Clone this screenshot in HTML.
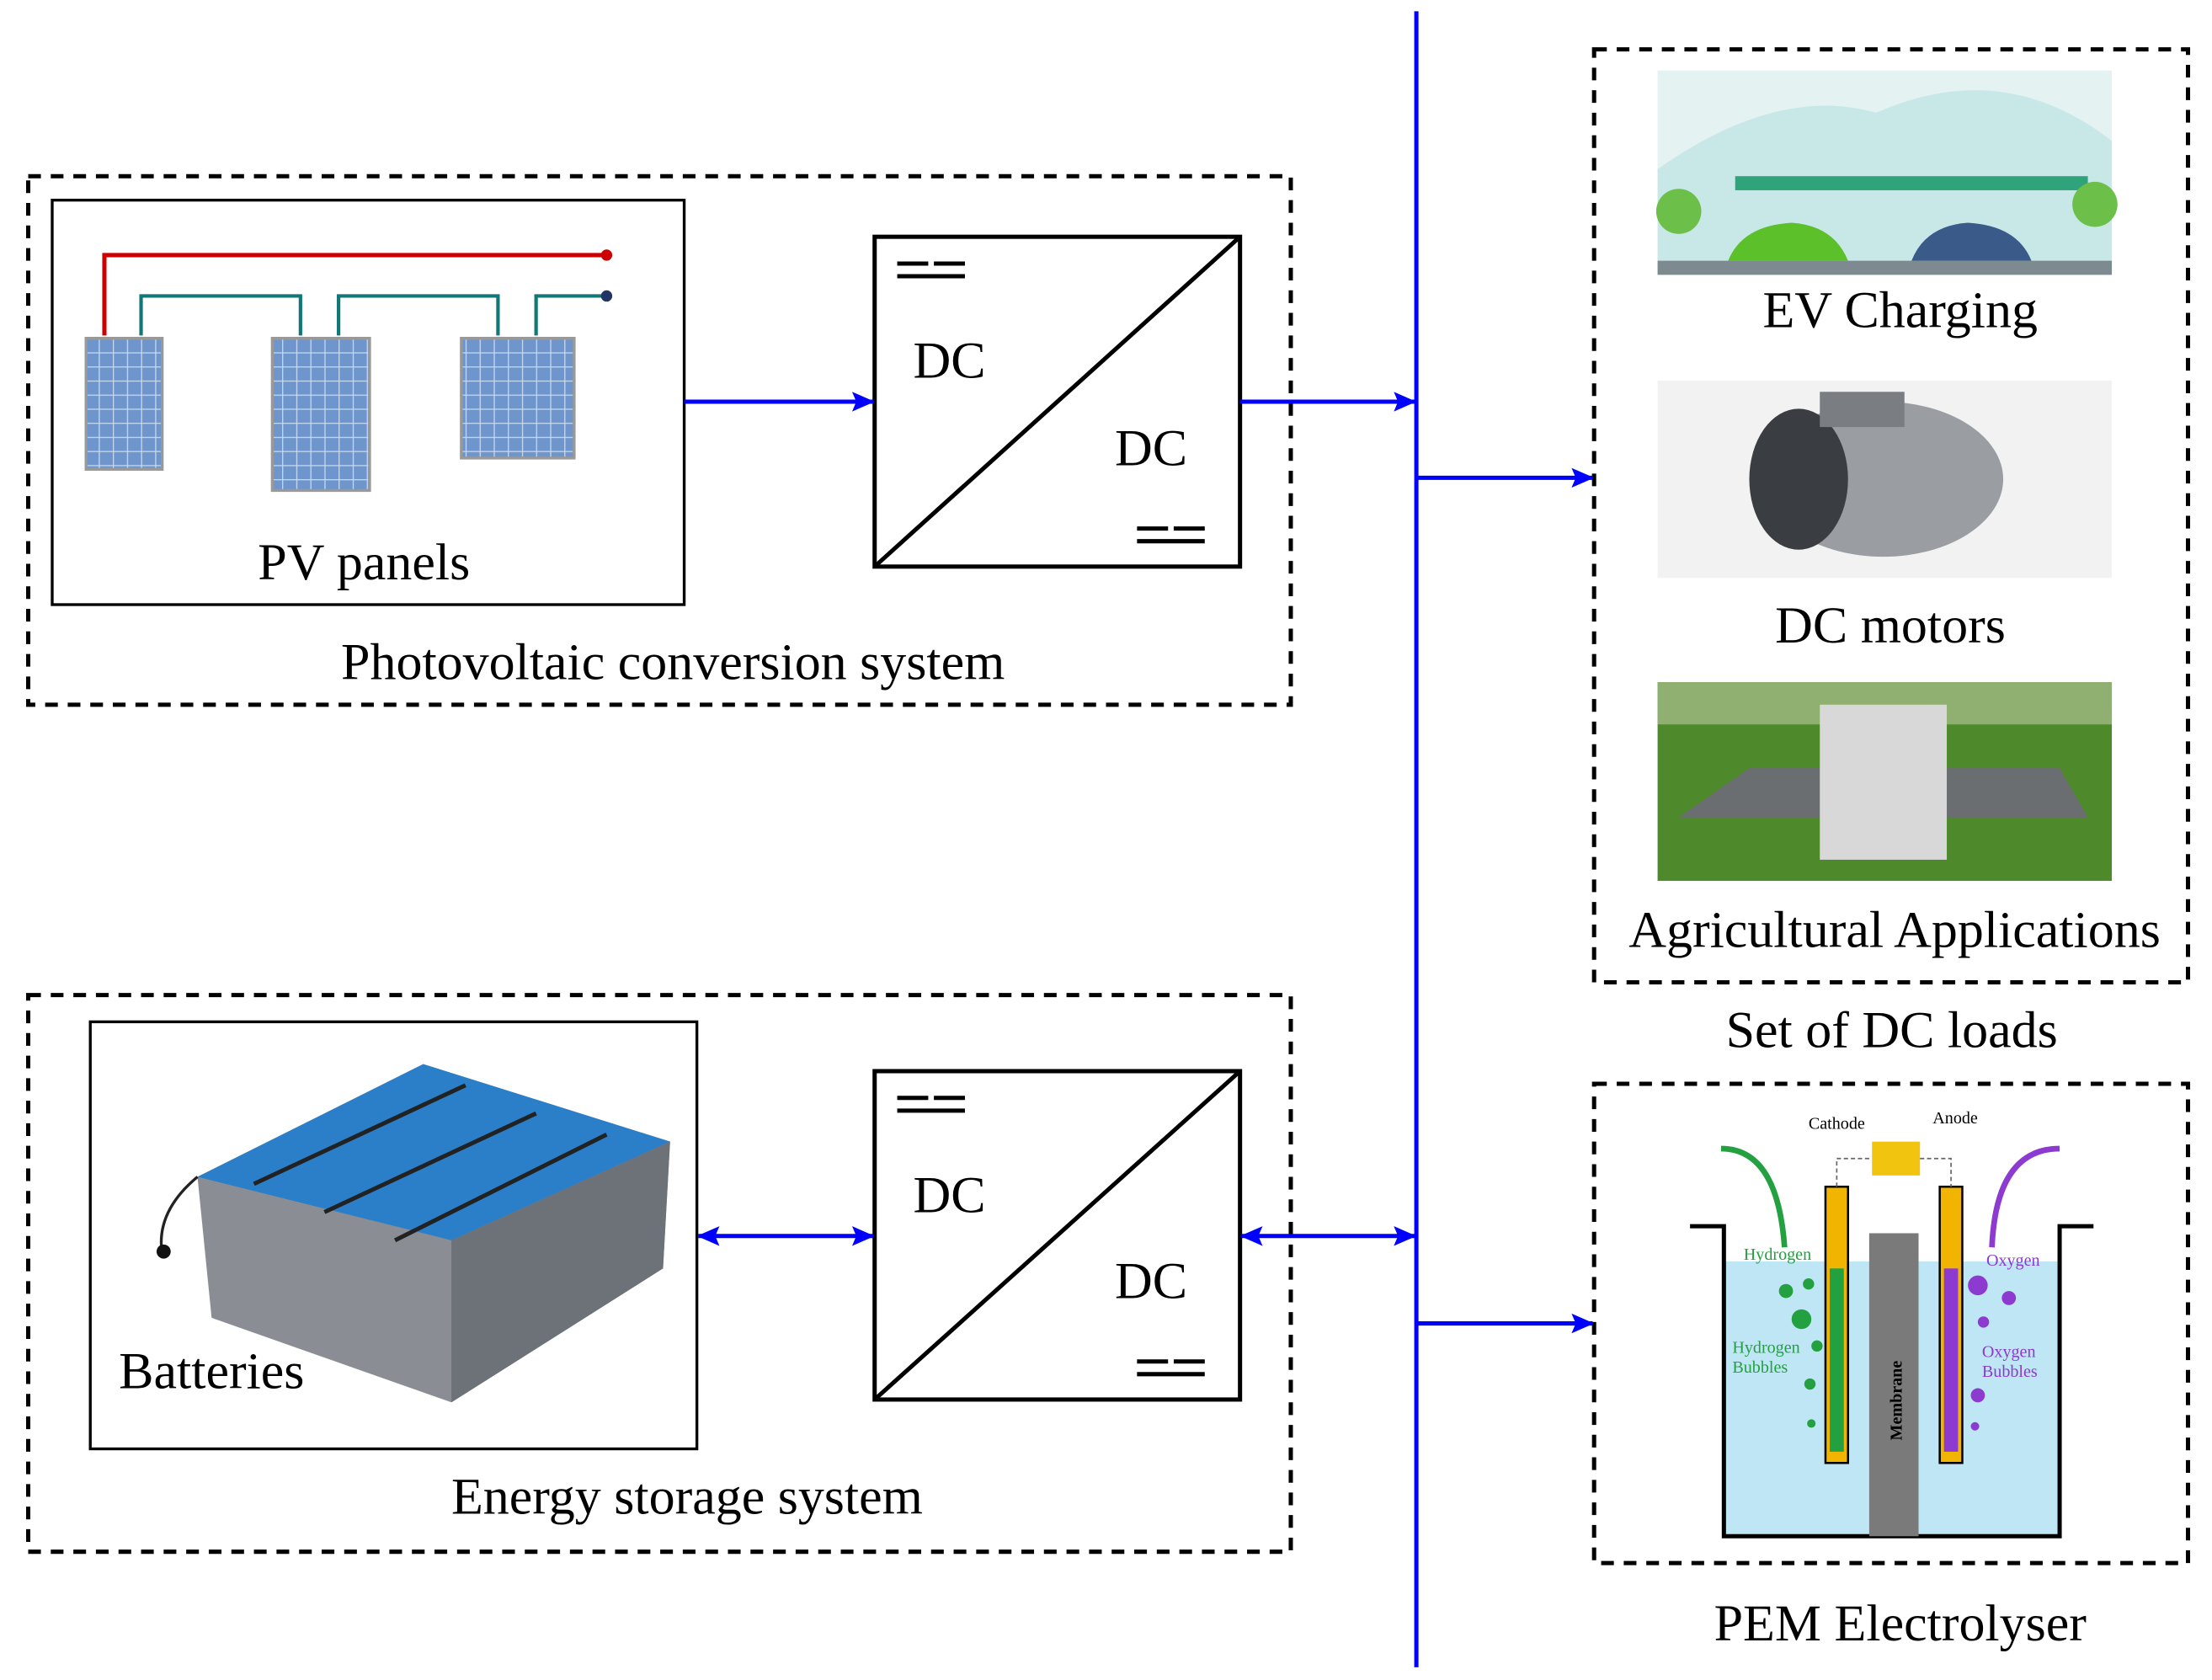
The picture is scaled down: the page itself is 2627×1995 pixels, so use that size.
<!DOCTYPE html>
<html><head><meta charset="utf-8"><style>
html,body{margin:0;padding:0;background:#fff;}
svg{display:block;}
text{font-family:"Liberation Serif",serif;}
</style></head><body>
<svg width="2627" height="1995" viewBox="0 0 1568 1192" preserveAspectRatio="none" xmlns="http://www.w3.org/2000/svg">
<defs>
<marker id="a" markerWidth="16" markerHeight="14" refX="15" refY="7" orient="auto" markerUnits="userSpaceOnUse"><path d="M0,0 L16,7 L0,14 L3,7 Z" fill="#00f"/></marker>
<marker id="s" markerWidth="16" markerHeight="14" refX="1" refY="7" orient="auto" markerUnits="userSpaceOnUse"><path d="M16,0 L0,7 L16,14 L13,7 Z" fill="#00f"/></marker>
<pattern id="g" width="10" height="10" patternUnits="userSpaceOnUse"><rect width="10" height="10" fill="#6f96cc"/><path d="M0,0H10M0,0V10" stroke="#c8daf0" stroke-width="1.5"/></pattern>
</defs>
<line x1="1004" y1="8" x2="1004" y2="1183" stroke="#00f" stroke-width="3"/>
<g fill="none" stroke="#000" stroke-width="3" stroke-dasharray="9,7">
<rect x="20" y="125" width="895" height="375"/>
<rect x="20" y="706" width="895" height="395"/>
<rect x="1130" y="35" width="421" height="662"/>
<rect x="1130" y="769" width="421" height="340"/>
</g>
<rect x="37" y="142" width="448" height="287" fill="#fff" stroke="#000" stroke-width="2"/>
<path d="M74,238 V181 H430" stroke="#c00" stroke-width="3" fill="none"/>
<circle cx="430" cy="181" r="4" fill="#c00"/>
<path d="M100,238 V210 H213 V238 M240,238 V210 H353 V238 M380,238 V210 H430" stroke="#177" stroke-width="2.5" fill="none"/>
<circle cx="430" cy="210" r="4" fill="#236"/>
<rect x="61" y="240" width="54" height="93" fill="url(#g)" stroke="#999" stroke-width="2"/>
<rect x="193" y="240" width="69" height="108" fill="url(#g)" stroke="#999" stroke-width="2"/>
<rect x="327" y="240" width="80" height="85" fill="url(#g)" stroke="#999" stroke-width="2"/>
<text x="258" y="411" font-size="37" text-anchor="middle">PV panels</text>
<text x="477" y="482" font-size="37" text-anchor="middle">Photovoltaic conversion system</text>
<rect x="620" y="168" width="259" height="234" fill="#fff" stroke="#000" stroke-width="3"/>
<line x1="620" y1="402" x2="879" y2="168" stroke="#000" stroke-width="3"/>
<path d="M636,187H658M662,187H684M636,196H684M806,375H828M832,375H854M806,384H854" stroke="#000" stroke-width="3"/>
<text x="673" y="268" font-size="37" text-anchor="middle">DC</text>
<text x="816" y="330" font-size="37" text-anchor="middle">DC</text>
<rect x="620" y="760" width="259" height="233" fill="#fff" stroke="#000" stroke-width="3"/>
<line x1="620" y1="993" x2="879" y2="760" stroke="#000" stroke-width="3"/>
<path d="M636,779H658M662,779H684M636,788H684M806,966H828M832,966H854M806,975H854" stroke="#000" stroke-width="3"/>
<text x="673" y="860" font-size="37" text-anchor="middle">DC</text>
<text x="816" y="921" font-size="37" text-anchor="middle">DC</text>
<rect x="64" y="725" width="430" height="303" fill="#fff" stroke="#000" stroke-width="2"/>
<path d="M140,835 L300,755 L475,810 L470,900 L320,995 L150,935 Z" fill="#8a8e94"/>
<path d="M140,835 L300,755 L475,810 L320,880 Z" fill="#2b7fc8"/>
<path d="M320,880 L475,810 L470,900 L320,995 Z" fill="#6d7278"/>
<path d="M180,840L330,770M230,860L380,790M280,880L430,805" stroke="#222" stroke-width="3"/>
<path d="M140,835 Q110,860 115,890" stroke="#222" stroke-width="2" fill="none"/>
<circle cx="116" cy="888" r="5" fill="#111"/>
<text x="150" y="985" font-size="37" text-anchor="middle">Batteries</text>
<text x="487" y="1074" font-size="37" text-anchor="middle">Energy storage system</text>
<g stroke="#00f" stroke-width="3" fill="none">
<line x1="485" y1="285" x2="619" y2="285" marker-end="url(#a)"/>
<line x1="879" y1="285" x2="1003" y2="285" marker-end="url(#a)"/>
<line x1="1004" y1="339" x2="1129" y2="339" marker-end="url(#a)"/>
<line x1="495" y1="877" x2="619" y2="877" marker-end="url(#a)" marker-start="url(#s)"/>
<line x1="880" y1="877" x2="1003" y2="877" marker-end="url(#a)" marker-start="url(#s)"/>
<line x1="1004" y1="939" x2="1129" y2="939" marker-end="url(#a)"/>
</g>
<rect x="1175" y="50" width="322" height="145" fill="#e4f3f2"/>
<path d="M1175,195 V120 Q1260,60 1330,80 Q1420,40 1497,100 V195Z" fill="#c8e8e8"/>
<rect x="1230" y="125" width="250" height="10" fill="#2fa37a"/>
<rect x="1175" y="185" width="322" height="10" fill="#7d8a90"/>
<path d="M1225,185 Q1235,160 1270,158 Q1300,160 1310,185Z" fill="#5cc02a"/>
<path d="M1355,185 Q1365,160 1395,158 Q1430,160 1440,185Z" fill="#3a5a8a"/>
<circle cx="1190" cy="150" r="16" fill="#6cc04a"/><circle cx="1485" cy="145" r="16" fill="#6cc04a"/>
<text x="1347" y="232" font-size="37" text-anchor="middle">EV Charging</text>
<rect x="1175" y="270" width="322" height="140" fill="#f2f2f2"/>
<ellipse cx="1335" cy="340" rx="85" ry="55" fill="#9a9da2"/>
<ellipse cx="1275" cy="340" rx="35" ry="50" fill="#3a3d42"/>
<rect x="1290" y="278" width="60" height="25" fill="#7a7d82"/>
<text x="1340" y="456" font-size="37" text-anchor="middle">DC motors</text>
<rect x="1175" y="484" width="322" height="141" fill="#4e8a2c"/>
<rect x="1175" y="484" width="322" height="30" fill="#8fb070"/>
<path d="M1190,580 L1240,545 H1460 L1480,580 Z" fill="#6a6e70"/>
<rect x="1290" y="500" width="90" height="110" fill="#d8d8d8"/>
<text x="1343" y="672" font-size="37" text-anchor="middle">Agricultural Applications</text>
<text x="1341" y="743" font-size="37" text-anchor="middle">Set of DC loads</text>
<rect x="1222" y="895" width="238" height="195" fill="#bfe6f5"/>
<path d="M1198,870 H1222 V1090 H1460 V870 H1484" stroke="#000" stroke-width="3" fill="none"/>
<rect x="1325" y="875" width="35" height="215" fill="#7a7a7a"/>
<rect x="1294" y="842" width="16" height="196" fill="#f1b400" stroke="#000" stroke-width="1.5"/>
<rect x="1297" y="900" width="10" height="130" fill="#23a040"/>
<rect x="1375" y="842" width="16" height="196" fill="#f1b400" stroke="#000" stroke-width="1.5"/>
<rect x="1378" y="900" width="10" height="130" fill="#8c3ad0"/>
<rect x="1327" y="810" width="34" height="24" fill="#f1c40f"/>
<path d="M1302,842V822H1327M1361,822H1383V842" stroke="#666" stroke-dasharray="3,2" fill="none"/>
<path d="M1265,885 Q1260,815 1220,815" stroke="#23a040" stroke-width="4" fill="none"/>
<path d="M1412,885 Q1415,815 1460,815" stroke="#8c3ad0" stroke-width="4" fill="none"/>
<g fill="#23a040"><circle cx="1266" cy="916" r="5"/><circle cx="1282" cy="911" r="4"/><circle cx="1277" cy="936" r="7"/><circle cx="1288" cy="955" r="4"/><circle cx="1283" cy="982" r="4"/><circle cx="1284" cy="1010" r="3"/></g>
<g fill="#8c3ad0"><circle cx="1402" cy="912" r="7"/><circle cx="1424" cy="921" r="5"/><circle cx="1406" cy="938" r="4"/><circle cx="1402" cy="990" r="5"/><circle cx="1400" cy="1012" r="3"/></g>
<g font-family="Liberation Sans,sans-serif" font-size="12">
<text x="1302" y="801" text-anchor="middle">Cathode</text>
<text x="1386" y="797" text-anchor="middle">Anode</text>
<text x="1260" y="894" text-anchor="middle" fill="#23a040">Hydrogen</text>
<text x="1427" y="898" text-anchor="middle" fill="#8c3ad0">Oxygen</text>
<text x="1228" y="960" fill="#23a040">Hydrogen</text><text x="1228" y="974" fill="#23a040">Bubbles</text>
<text x="1405" y="963" fill="#8c3ad0">Oxygen</text><text x="1405" y="977" fill="#8c3ad0">Bubbles</text>
<text x="1348" y="1022" transform="rotate(-90 1348 1022)" font-weight="bold">Membrane</text>
</g>
<text x="1347" y="1164" font-size="37" text-anchor="middle">PEM Electrolyser</text>
</svg>
</body></html>
